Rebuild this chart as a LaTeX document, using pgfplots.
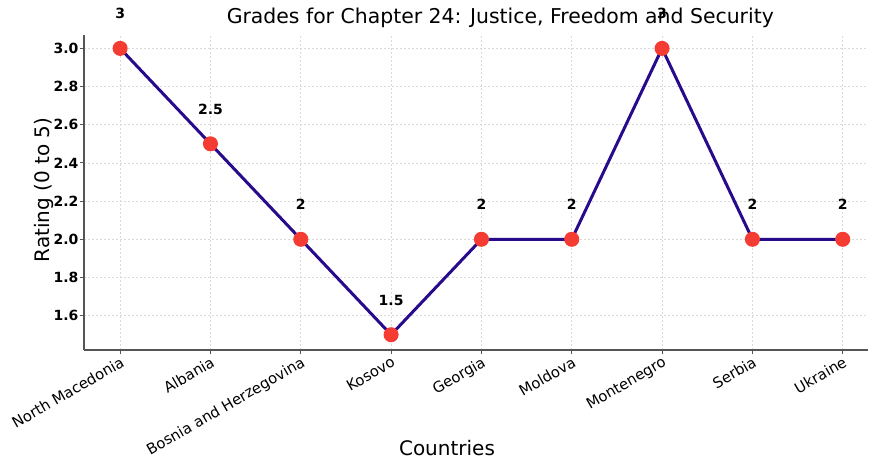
\documentclass[border=0pt]{standalone}
\usepackage{fontspec}
\setmainfont{DejaVu Sans}
\usepackage{pgfplots}
\pgfplotsset{compat=1.18}
\definecolor{linecol}{RGB}{40,10,140}
\definecolor{markcol}{RGB}{245,60,50}
\definecolor{spinecol}{RGB}{85,85,85}

\pgfplotstableread{
idx rating
0 3
1 2.5
2 2
3 1.5
4 2
5 2
6 3
7 2
8 2
}\grades

\begin{document}
\begin{tikzpicture}
\path[use as bounding box] (-42pt,-53.5pt) rectangle (393pt,175pt);
\begin{axis}[
  at={(0,0)}, anchor=south west,
  scale only axis, width=392pt, height=157.5pt,
  xmin=-0.4, xmax=8.28, ymin=1.42, ymax=3.07,
  axis x line*=bottom, axis y line*=left,
  axis line style={spinecol, line width=0.75pt},
  clip=false,
  xtick={0,...,8},
  xticklabels={North Macedonia,Albania,Bosnia and Herzegovina,Kosovo,Georgia,Moldova,Montenegro,Serbia,Ukraine},
  x tick label style={rotate=30, anchor=north east, font=\fontsize{7.4}{9}\selectfont, inner sep=0.5pt},
  ytick={1.6,1.8,2.0,2.2,2.4,2.6,2.8,3.0},
  yticklabel style={font=\fontsize{7}{8}\selectfont\bfseries, inner sep=0.6pt, /pgf/number format/.cd, fixed, fixed zerofill, precision=1, assume math mode=true},
  tick align=outside, major tick length=2pt,
  tick style={spinecol, line width=0.5pt},
  grid=major,
  major grid style={gray!30, line width=0.4pt, dash pattern=on 1pt off 1pt},
  title={Grades for Chapter 24: Justice, Freedom and Security},
  title style={at={(rel axis cs:0.531,1.016)}, anchor=center, font=\fontsize{10.2}{12}\selectfont},
  xlabel={Countries},
  every axis x label/.style={at={(rel axis cs:0.463,-0.31)}, anchor=center, font=\fontsize{10}{12}\selectfont},
  ylabel={Rating (0 to 5)},
  every axis y label/.style={at={(rel axis cs:-0.0515,0.508)}, anchor=center, rotate=90, font=\fontsize{10}{12}\selectfont},
]
\addplot[linecol, line width=1.5pt, mark=*, mark size=3pt,
  mark options={fill=markcol, draw=markcol},
  nodes near coords,
  every node near coord/.append style={font=\fontsize{7}{8}\selectfont\bfseries, black, anchor=south, inner sep=0pt, yshift=14pt, /pgf/number format/assume math mode=true}]
  table[x=idx, y=rating] {\grades};
\end{axis}
\end{tikzpicture}
\end{document}
